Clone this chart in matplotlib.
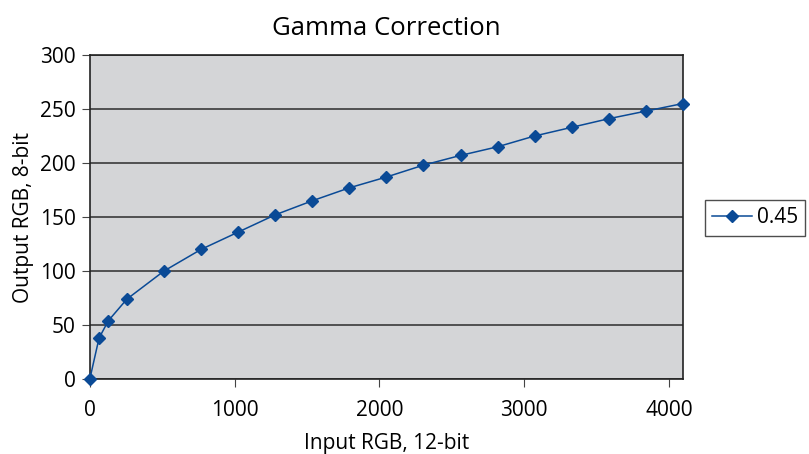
import matplotlib.pyplot as plt

plt.rcParams['font.family'] = ['Open Sans', 'DejaVu Sans']

# Gamma 0.45 curve: 12-bit input -> 8-bit output
input_rgb = [0, 64, 128, 256, 512, 768, 1024, 1280, 1536, 1792, 2048,
             2304, 2560, 2816, 3072, 3328, 3584, 3840, 4095]
output_rgb = [0, 38, 54, 74, 100, 120, 136, 152, 165, 177, 187,
              198, 207, 215, 225, 233, 241, 248, 255]
series_name = "0.45"

fig = plt.figure(figsize=(8.09, 4.54), dpi=100)
ax = fig.add_axes([0.111, 0.165, 0.733, 0.714])

ax.set_facecolor('#d4d5d7')
ax.plot(input_rgb, output_rgb, color='#0a4a96', linewidth=1.1,
        marker='D', markersize=6, label=series_name, clip_on=False, zorder=3)

ax.set_xlim(0, 4095)
ax.set_ylim(0, 300)
ax.set_xticks([0, 1000, 2000, 3000, 4000])
ax.set_yticks(range(0, 301, 50))
ax.yaxis.grid(True, color='#3a3a3a', linewidth=1.2)
ax.set_axisbelow(True)
ax.tick_params(axis='both', labelsize=15, length=6, color='#444444', direction='out')
ax.tick_params(axis='x', pad=9)
ax.tick_params(axis='y', pad=4)
for s in ax.spines.values():
    s.set_color('#222222')
    s.set_linewidth(1.2)

ax.set_title("Gamma Correction", fontsize=18.5, pad=14)
ax.set_xlabel("Input RGB, 12-bit", fontsize=15, labelpad=9)
ax.set_ylabel("Output RGB, 8-bit", fontsize=15, labelpad=4)

leg = ax.legend(loc='center left', bbox_to_anchor=(1.037, 0.497), fontsize=15,
                frameon=True, fancybox=False, handlelength=1.9,
                borderpad=0.35, handletextpad=0.25, borderaxespad=0)
leg.get_frame().set_edgecolor('#222222')
leg.get_frame().set_linewidth(1.0)

fig.savefig("out.png", dpi=100)
